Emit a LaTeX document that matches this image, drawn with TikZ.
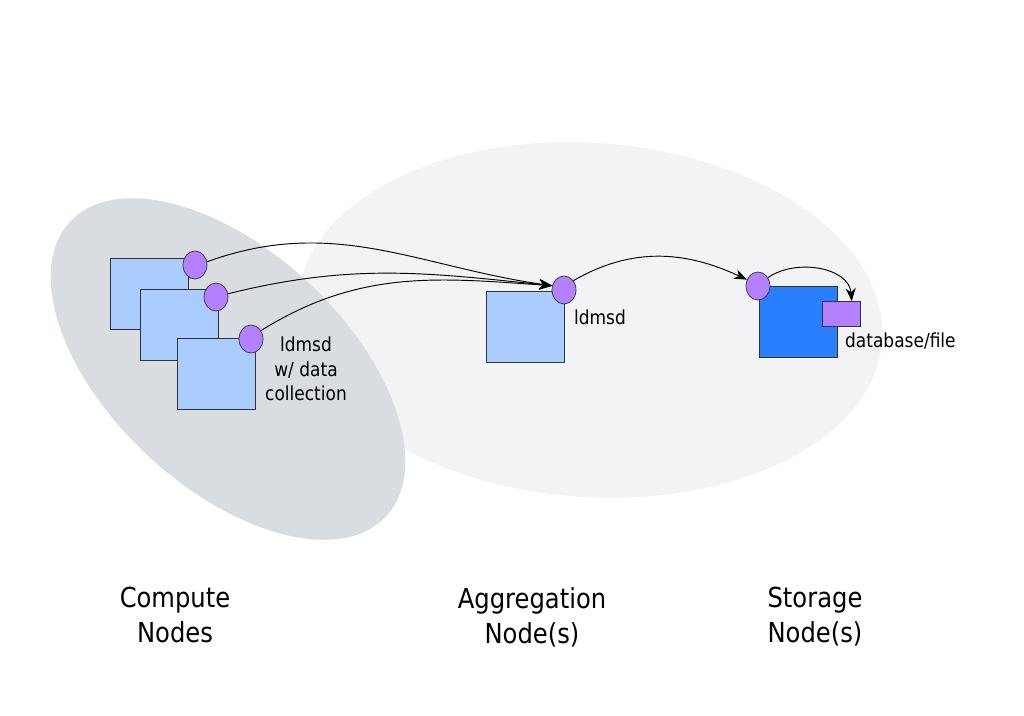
\documentclass[tikz,border=0pt]{standalone}
\usepackage{fontspec}
\setmainfont{DejaVu Sans}[FakeStretch=0.88]
\usetikzlibrary{shapes.geometric,arrows.meta}
\definecolor{hostblue}{HTML}{AACCFF}
\definecolor{storeblue}{HTML}{2A7FFF}
\definecolor{plugpurple}{HTML}{B380FF}
\definecolor{regiongray}{HTML}{D9DCE0}
\definecolor{regionlight}{HTML}{F1F3F4}
\tikzset{
  hostbox/.style={draw=black!80,fill=hostblue,line width=0.6pt,minimum width=2.34cm,minimum height=2.13cm,inner sep=0pt,anchor=north west},
  plug/.style={ellipse,draw=black!80,fill=plugpurple,line width=0.6pt,minimum width=0.72cm,minimum height=0.84cm,inner sep=0pt},
  flow/.style={line width=0.8pt,-{Stealth[length=11pt,width=8.5pt,inset=3.5pt]}},
  smalltext/.style={font=\fontsize{16.5}{21}\selectfont,align=center},
  bigtext/.style={font=\fontsize{23.5}{30}\selectfont,align=center}
}
\begin{document}
\begin{tikzpicture}[x=0.03cm,y=0.03cm]
  \useasboundingbox[fill=white] (0,0) rectangle (1024,-715);
  % regions
  \fill[regionlight,rotate around={-4:(590,-320)}] (590,-320) ellipse (293 and 177);
  \fill[regiongray,rotate around={-43:(228,-369)}] (228,-369) ellipse (216 and 118);
  % compute nodes
  \node[hostbox] (cn1) at (110,-258) {};
  \node[plug] (cp1) at (195,-265) {};
  \node[hostbox] (cn2) at (140,-289) {};
  \node[plug] (cp2) at (216,-297) {};
  \node[hostbox] (cn3) at (177,-338) {};
  \node[plug] (cp3) at (251,-339) {};
  \node[smalltext] (cnlabel) at (306,-369) {ldmsd\\w/ data\\collection};
  % aggregation node
  \node[hostbox] (an) at (486,-291) {};
  \node[plug] (ap) at (564,-290) {};
  \node[smalltext,anchor=west] (anlabel) at (570,-317) {ldmsd};
  % storage node
  \node[hostbox,fill=storeblue] (sn) at (759,-286) {};
  \node[plug] (sp) at (758,-286) {};
  \node[draw=black!80,fill=plugpurple,line width=0.6pt,minimum width=1.14cm,minimum height=0.75cm,inner sep=0pt] (db) at (841,-314) {};
  \node[smalltext,anchor=west] (dblabel) at (841,-341) {database/file};
  % arrows
  \draw[flow] (cp1.15) to[out=20,in=172] (ap.160);
  \draw[flow] (cp2.15) to[out=14,in=174] (ap.160);
  \draw[flow] (cp3.40) to[out=32,in=176] (ap.160);
  \draw[flow] (ap.45) to[out=30,in=155] (sp.150);
  \draw[flow] (sp.40) to[out=35,in=95] (db.50);
  % labels
  \node[bigtext] (cnname) at (175,-615) {Compute\\Nodes};
  \node[bigtext] (anname) at (532,-617) {Aggregation\\Node(s)};
  \node[bigtext] (snname) at (815,-617) {Storage\\Node(s)};
\end{tikzpicture}
\end{document}
